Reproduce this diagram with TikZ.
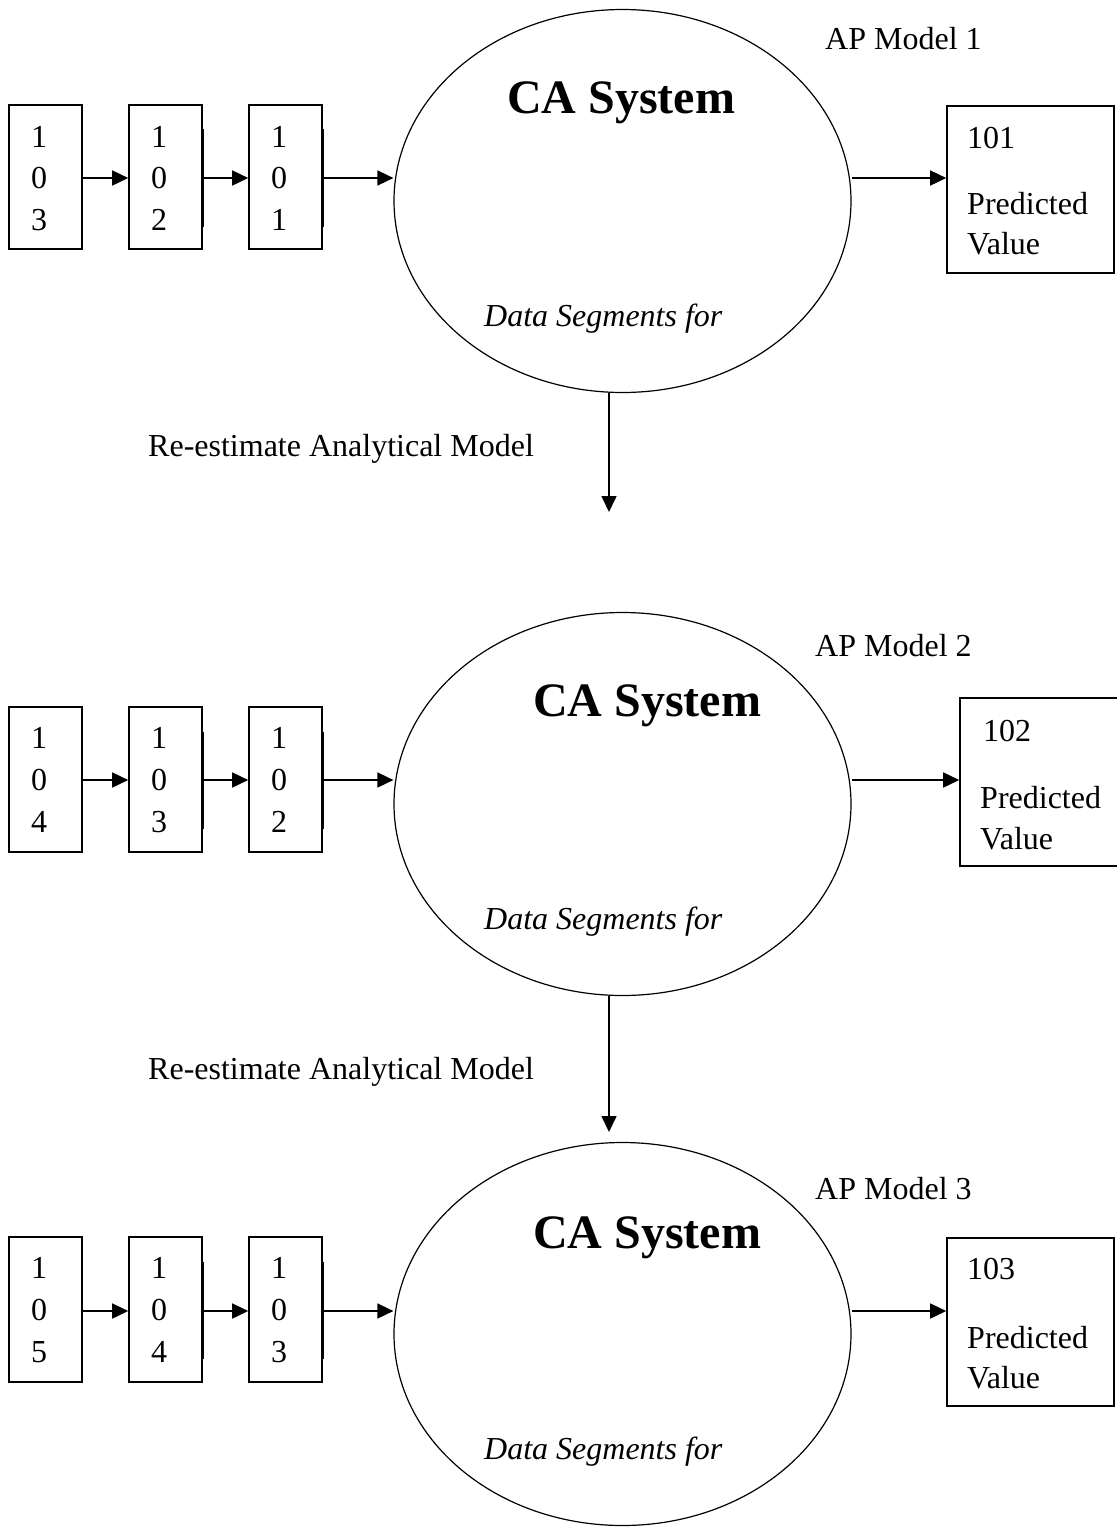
\documentclass[tikz,border=0pt]{standalone}
\usepackage{fontspec}
\setmainfont{Liberation Serif}
\usetikzlibrary{arrows.meta,shapes.geometric}
\begin{document}
\begin{tikzpicture}[x=1pt,y=-1pt,
  txt/.style={inner sep=0pt,anchor=base west,font=\fontsize{32}{38}\selectfont},
  ttl/.style={inner sep=0pt,anchor=base west,font=\fontsize{48}{56}\selectfont\bfseries},
  itx/.style={inner sep=0pt,anchor=base west,font=\fontsize{32}{38}\selectfont\itshape},
  inbox/.style={draw,line width=1.6pt,minimum width=73pt,minimum height=144pt,inner sep=0pt},
  outbox/.style={draw,line width=1.6pt,inner sep=0pt},
  casys/.style={draw,ellipse,line width=1.2pt,minimum width=457pt,minimum height=383pt,inner sep=0pt},
  arr/.style={line width=1.6pt,-{Triangle[length=16pt,width=15pt]}},
  shade/.style={line width=1.2pt}
]
\useasboundingbox (0,0) rectangle (1117,1527);

% ---------------- Block 1 ----------------
\node[inbox] (b11) at (45.5,177) {};
\node[inbox] (b12) at (165.5,177) {};
\node[inbox] (b13) at (285.5,177) {};
\draw[shade] (203.2,129) -- (203.2,227);
\draw[shade] (323.2,129) -- (323.2,227);
\node[txt] (t111) at (31,147) {1};
\node[txt] (t112) at (31,188) {0};
\node[txt] (t113) at (31,230) {3};
\node[txt] (t121) at (151,147) {1};
\node[txt] (t122) at (151,188) {0};
\node[txt] (t123) at (151,230) {2};
\node[txt] (t131) at (271,147) {1};
\node[txt] (t132) at (271,188) {0};
\node[txt] (t133) at (271,230) {1};
\node[casys] (e1) at (622.5,201) {};
\node[ttl] (c1) at (507,113) {CA System};
\node[itx] (d1) at (484,326) {Data Segments for};
\node[txt] (ap1) at (825,49) {AP Model 1};
\node[outbox,minimum width=167pt,minimum height=167pt] (o1) at (1030.5,189.5) {};
\node[txt] (v11) at (967,148) {101};
\node[txt] (v12) at (967,214) {Predicted};
\node[txt] (v13) at (967,254) {Value};
\coordinate (r1) at (0,178);
\draw[arr] (b11.east |- r1) -- (b12.west |- r1);
\draw[arr] (b12.east |- r1) -- (b13.west |- r1);
\draw[arr] (b13.east |- r1) -- (e1.west |- r1);
\draw[arr] (e1.east |- r1) -- (o1.west |- r1);
\node[txt] (re1) at (148,456) {Re-estimate Analytical Model};
\coordinate (a1e) at (609,512);
\draw[arr] (a1e |- e1.south) -- (a1e);

% ---------------- Block 2 ----------------
\node[inbox,minimum height=145pt] (b21) at (45.5,779.5) {};
\node[inbox,minimum height=145pt] (b22) at (165.5,779.5) {};
\node[inbox,minimum height=145pt] (b23) at (285.5,779.5) {};
\draw[shade] (203.2,732) -- (203.2,829);
\draw[shade] (323.2,732) -- (323.2,829);
\node[txt] (t211) at (31,748) {1};
\node[txt] (t212) at (31,790) {0};
\node[txt] (t213) at (31,832) {4};
\node[txt] (t221) at (151,748) {1};
\node[txt] (t222) at (151,790) {0};
\node[txt] (t223) at (151,832) {3};
\node[txt] (t231) at (271,748) {1};
\node[txt] (t232) at (271,790) {0};
\node[txt] (t233) at (271,832) {2};
\node[casys] (e2) at (622.5,804) {};
\node[ttl] (c2) at (533,716) {CA System};
\node[itx] (d2) at (484,929) {Data Segments for};
\node[txt] (ap2) at (815,656) {AP Model 2};
\node[outbox,minimum width=160pt,minimum height=168pt] (o2) at (1040,782) {};
\node[txt] (v21) at (983,741) {102};
\node[txt] (v22) at (980,808) {Predicted};
\node[txt] (v23) at (980,849) {Value};
\coordinate (r2) at (0,780);
\draw[arr] (b21.east |- r2) -- (b22.west |- r2);
\draw[arr] (b22.east |- r2) -- (b23.west |- r2);
\draw[arr] (b23.east |- r2) -- (e2.west |- r2);
\draw[arr] (e2.east |- r2) -- (o2.west |- r2);
\node[txt] (re2) at (148,1079) {Re-estimate Analytical Model};
\coordinate (a2e) at (609,1132);
\draw[arr] (a2e |- e2.south) -- (a2e);

% ---------------- Block 3 ----------------
\node[inbox,minimum height=145pt] (b31) at (45.5,1309.5) {};
\node[inbox,minimum height=145pt] (b32) at (165.5,1309.5) {};
\node[inbox,minimum height=145pt] (b33) at (285.5,1309.5) {};
\draw[shade] (203.2,1262) -- (203.2,1359);
\draw[shade] (323.2,1262) -- (323.2,1359);
\node[txt] (t311) at (31,1278) {1};
\node[txt] (t312) at (31,1320) {0};
\node[txt] (t313) at (31,1362) {5};
\node[txt] (t321) at (151,1278) {1};
\node[txt] (t322) at (151,1320) {0};
\node[txt] (t323) at (151,1362) {4};
\node[txt] (t331) at (271,1278) {1};
\node[txt] (t332) at (271,1320) {0};
\node[txt] (t333) at (271,1362) {3};
\node[casys] (e3) at (622.5,1334) {};
\node[ttl] (c3) at (533,1248) {CA System};
\node[itx] (d3) at (484,1459) {Data Segments for};
\node[txt] (ap3) at (815,1199) {AP Model 3};
\node[outbox,minimum width=167pt,minimum height=168pt] (o3) at (1030.5,1322) {};
\node[txt] (v31) at (967,1279) {103};
\node[txt] (v32) at (967,1348) {Predicted};
\node[txt] (v33) at (967,1388) {Value};
\coordinate (r3) at (0,1311);
\draw[arr] (b31.east |- r3) -- (b32.west |- r3);
\draw[arr] (b32.east |- r3) -- (b33.west |- r3);
\draw[arr] (b33.east |- r3) -- (e3.west |- r3);
\draw[arr] (e3.east |- r3) -- (o3.west |- r3);
\end{tikzpicture}
\end{document}
